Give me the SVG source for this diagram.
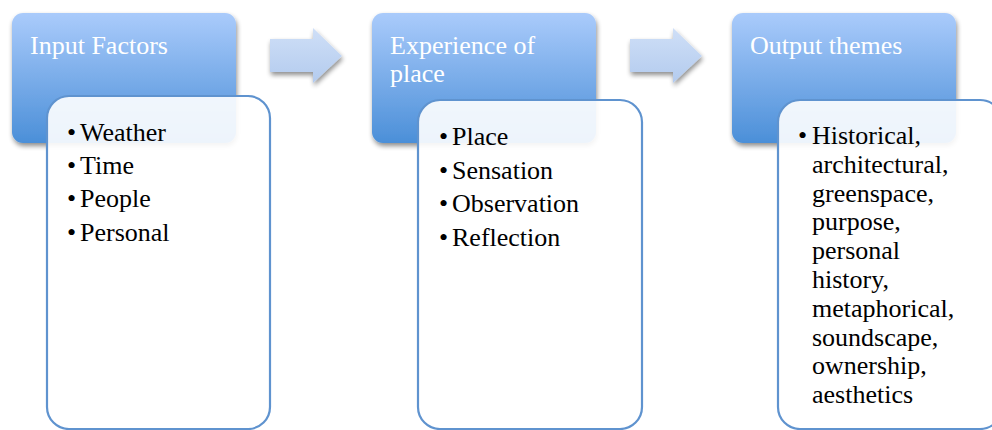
<svg xmlns="http://www.w3.org/2000/svg" width="992" height="430" viewBox="0 0 992 430">
  <defs>
    <linearGradient id="hdr" x1="0" y1="0" x2="0" y2="1">
      <stop offset="0" stop-color="#aacbfb"/>
      <stop offset="1" stop-color="#4b8fd8"/>
    </linearGradient>
    <linearGradient id="arr" x1="0" y1="0" x2="0" y2="1">
      <stop offset="0" stop-color="#cfdff7"/>
      <stop offset="1" stop-color="#b3cbee"/>
    </linearGradient>
    <filter id="shadow" x="-10%" y="-10%" width="130%" height="130%">
      <feGaussianBlur in="SourceAlpha" stdDeviation="2.5"/>
      <feOffset dx="1" dy="3" result="b"/>
      <feComponentTransfer><feFuncA type="linear" slope="0.45"/></feComponentTransfer>
      <feMerge><feMergeNode/><feMergeNode in="SourceGraphic"/></feMerge>
    </filter>
  </defs>
  <style>
    .hdr { fill: url(#hdr); filter: url(#shadow); }
    .htxt { font-size: 26px; fill: #ffffff; }
    .det { fill: #ffffff; fill-opacity: 0.9; stroke: #5f93cf; stroke-width: 2.2; }
    .btxt { font-size: 26px; fill: #000000; }
    .arrow { fill: url(#arr); filter: url(#shadow); }
  </style>

  <g id="connectors">
    <polygon class="arrow" points="270,39 313,39 313,28 342,56 313,83 313,72 270,72"/>
    <polygon class="arrow" points="630,39 673,39 673,28 702,56 673,83 673,72 630,72"/>
  </g>

  <g id="input-factors">
    <rect class="hdr" x="12" y="13" width="224" height="130" rx="11"/>
    <text class="htxt" font-family="Liberation Serif, Times New Roman, serif" x="30" y="54">Input Factors</text>
  </g>
  <g id="input-list">
    <rect class="det" x="47" y="96" width="223" height="333" rx="22"/>
    <text class="btxt" font-family="Liberation Serif, Times New Roman, serif">
      <tspan x="67" y="141">•</tspan><tspan x="80" y="141">Weather</tspan>
      <tspan x="67" y="174">•</tspan><tspan x="80" y="174">Time</tspan>
      <tspan x="67" y="207">•</tspan><tspan x="80" y="207">People</tspan>
      <tspan x="67" y="241">•</tspan><tspan x="80" y="241">Personal</tspan>
    </text>
  </g>

  <g id="experience">
    <rect class="hdr" x="372" y="13" width="224" height="130" rx="11"/>
    <text class="htxt" font-family="Liberation Serif, Times New Roman, serif"><tspan x="390" y="54">Experience of</tspan><tspan x="390" y="82">place</tspan></text>
  </g>
  <g id="experience-list">
    <rect class="det" x="418" y="100" width="224" height="329" rx="22"/>
    <text class="btxt" font-family="Liberation Serif, Times New Roman, serif">
      <tspan x="439" y="145">•</tspan><tspan x="452" y="145">Place</tspan>
      <tspan x="439" y="179">•</tspan><tspan x="452" y="179">Sensation</tspan>
      <tspan x="439" y="212">•</tspan><tspan x="452" y="212">Observation</tspan>
      <tspan x="439" y="246">•</tspan><tspan x="452" y="246">Reflection</tspan>
    </text>
  </g>

  <g id="output-themes">
    <rect class="hdr" x="732" y="13" width="224" height="130" rx="11"/>
    <text class="htxt" font-family="Liberation Serif, Times New Roman, serif" x="750" y="54">Output themes</text>
  </g>
  <g id="output-list">
    <rect class="det" x="778" y="100" width="224" height="329" rx="22"/>
    <text class="btxt" font-family="Liberation Serif, Times New Roman, serif">
      <tspan x="798" y="144">•</tspan><tspan x="812" y="144">Historical,</tspan>
      <tspan x="812" y="172.8">architectural,</tspan>
      <tspan x="812" y="201.6">greenspace,</tspan>
      <tspan x="812" y="230.4">purpose,</tspan>
      <tspan x="812" y="259.2">personal</tspan>
      <tspan x="812" y="288">history,</tspan>
      <tspan x="812" y="316.8">metaphorical,</tspan>
      <tspan x="812" y="345.6">soundscape,</tspan>
      <tspan x="812" y="374.4">ownership,</tspan>
      <tspan x="812" y="403">aesthetics</tspan>
    </text>
  </g>
</svg>
